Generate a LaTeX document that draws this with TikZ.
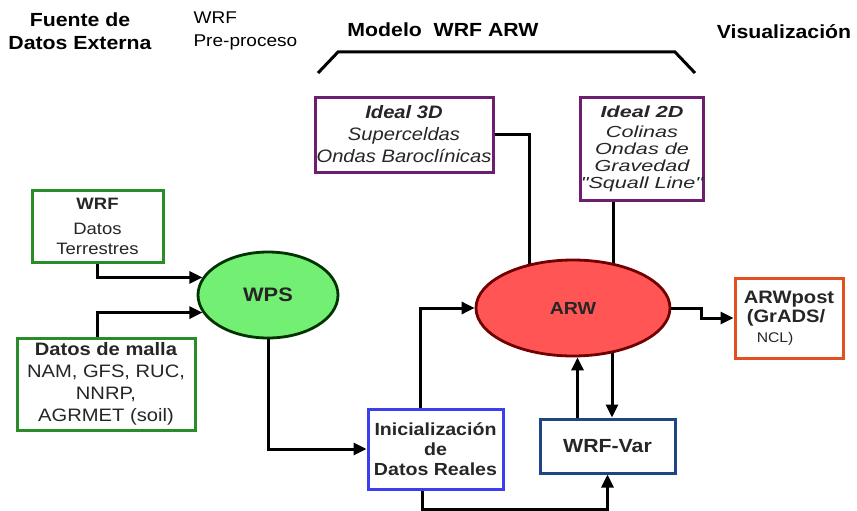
\documentclass[tikz,border=0pt]{standalone}
\usepackage{fontspec}
\setmainfont[FakeStretch=1.12]{Liberation Sans}
\newfontfamily\widefont[FakeStretch=1.35]{Liberation Sans}
\usepackage{tikz}
\usetikzlibrary{positioning}
\usetikzlibrary{arrows.meta,shapes}
\usetikzlibrary{backgrounds}
\definecolor{boxgreen}{RGB}{40,140,40}
\definecolor{wpsgreen}{RGB}{115,240,115}
\definecolor{arwred}{RGB}{255,85,85}
\definecolor{idealpurple}{RGB}{110,30,110}
\definecolor{iniblue}{RGB}{60,60,240}
\definecolor{varblue}{RGB}{30,70,130}
\definecolor{postorange}{RGB}{225,80,30}
\tikzstyle{box}=[rectangle,draw,line width=3pt,fill=white,inner sep=0pt,align=center,text=black!85]
\tikzstyle{oval}=[ellipse,draw,line width=2.8pt,inner sep=0pt,text=black!85]
\tikzstyle{edge} = [draw,line width=3pt,-{Triangle[length=13pt,width=12pt]}]
\tikzstyle{link} = [draw,line width=3pt]
\tikzstyle{title} = [font=\fontsize{19}{23}\selectfont\bfseries,align=center]

\begin{document}
\begin{tikzpicture}[x=1pt,y=-1pt]
    \useasboundingbox (0,0) rectangle (857,511);

    % column titles
    \node[title] (FDE) at (80,31) {Fuente de\\Datos Externa};
    \node[anchor=west,align=left,font=\fontsize{17}{23}\selectfont] (WPP) at (190,31) {WRF\\Pre-proceso};
    \node[title] (MWA) at (443,30) {Modelo\ \ WRF ARW};
    \node[title] (VIS) at (784,32) {Visualización};
    \draw[line width=3pt] (318,73) -- (338,52) -- (675,52) -- (695,73);

    % input data
    \node[box,draw=boxgreen,minimum width=131,minimum height=72,font=\fontsize{16.5}{20}\selectfont] (WRF) at (97.5,226)
        {\textbf{WRF}\\[5pt]Datos\\Terrestres};
    \node[box,draw=boxgreen,minimum width=178,minimum height=92,font=\fontsize{18}{22}\selectfont] (DM) at (106,384)
        {\textbf{Datos de malla}\\NAM, GFS, RUC,\\NNRP,\\AGRMET (soil)};

    % pre-proceso
    \node[oval,fill=wpsgreen,draw=black!80!green,minimum width=140,minimum height=86,font=\fontsize{19.5}{22}\selectfont\bfseries] (WPS) at (268,295) {WPS};

    % modelo
    \node[box,draw=idealpurple,minimum width=178,minimum height=75,font=\fontsize{18}{22}\selectfont\itshape] (I3D) at (404,134.5)
        {\textbf{Ideal 3D}\\Superceldas\\Ondas Baroclínicas};
    \node[box,draw=idealpurple,minimum width=120,minimum height=103,font=\widefont\fontsize{16}{17}\selectfont\itshape] (I2D) at (642,148.5)
        {\textbf{Ideal 2D}\\[3pt]Colinas\\Ondas de\\Gravedad\\"Squall Line"};
    \node[oval,fill=arwred,draw=black!55!red,minimum width=194,minimum height=96,font=\fontsize{17.5}{20}\selectfont\bfseries] (ARW) at (573,308) {ARW};
    \node[box,draw=iniblue,minimum width=135,minimum height=80,font=\fontsize{17.5}{20}\selectfont\bfseries] (INI) at (435.5,449)
        {Inicialización\\de\\Datos Reales};
    \node[box,draw=varblue,minimum width=135,minimum height=54,font=\fontsize{19}{22}\selectfont\bfseries] (VAR) at (607.5,446) {WRF-Var};

    % visualizacion
    \node[box,draw=postorange,minimum width=108,minimum height=80,align=left,font=\fontsize{18}{19}\selectfont\bfseries] (POST) at (789,318)
        {ARWpost\\\hspace*{3pt}(GrADS/\\[1pt]\hspace*{13pt}{\mdseries\fontsize{14}{16}\selectfont NCL)}};

    % connectors
    \draw[edge] (WRF.south) |- (WPS.165);
    \draw[edge] (DM.north -| WRF.south) |- (WPS.195);
    \draw[edge] (WPS.south) |- (INI.west);
    \draw[edge] ([xshift=-15pt]INI.north) |- (ARW.west);
    \draw[edge] ([xshift=-13pt]INI.south) -- ++(0,19) -| (VAR.south);
    \draw[edge] (ARW.east) -- ++(30,0) |- (POST.west);
    \coordinate (up) at ([xshift=-30pt]VAR.north);
    \draw[edge] (up) -- (up |- ARW.south);

    \begin{scope}[on background layer]
        \coordinate (in3) at ([xshift=-44pt]ARW.center);
        \coordinate (in2) at ([xshift=-29pt]I2D.south);
        \coordinate (dn) at ([xshift=4.5pt]VAR.north);
        \draw[link] (I3D.east) -| (in3);
        \draw[link] (in2) -- (in2 |- ARW.center);
        \draw[edge] (dn |- ARW.center) -- (dn);
    \end{scope}
\end{tikzpicture}
\end{document}
